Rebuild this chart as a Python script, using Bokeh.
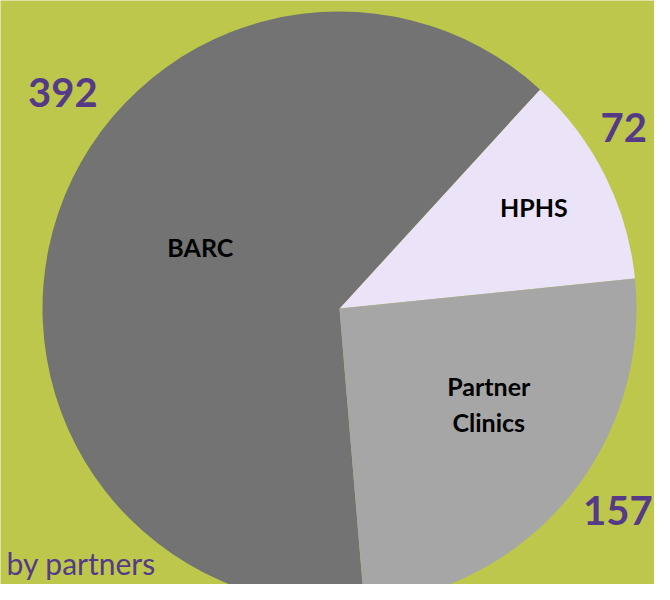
import math
from bokeh.plotting import figure
from bokeh.models import Range1d, ColumnDataSource
from bokeh.core.properties import value
from bokeh.embed import file_html
from bokeh.resources import INLINE

# ---- data ----
labels = ["HPHS", "BARC", "Partner\nClinics"]
counts = [72, 392, 157]
colors = ["#EBE3F8", "#737373", "#A6A6A6"]
footer = "by partners"

# ---- layout ----
W, H = 654, 584
BG = "#BCC74B"
PURPLE = "#553A88"
cx, cy, R = 339, H - 308, 297
start_deg = 5.8
# label placement (angle in degrees, distance from centre in px)
name_pos = [(27.5, 219), (156.3, 152), (-32.5, 177)]
count_pos = [(32.5, 337), (142.0, 351), (-36.0, 344)]

total = sum(counts)
starts, ends = [], []
a = math.radians(start_deg)
for c in counts:
    starts.append(a)
    a += 2 * math.pi * c / total
    ends.append(a)

p = figure(width=W, height=H, x_range=Range1d(0, W), y_range=Range1d(0, H),
           output_backend="svg", toolbar_location=None, min_border=0)
p.axis.visible = False
p.grid.visible = False
p.outline_line_color = None
p.background_fill_color = BG
p.border_fill_color = BG

src = ColumnDataSource(dict(start=starts, end=ends, color=colors))
p.wedge(x=cx, y=cy, radius=R, start_angle="start", end_angle="end",
        fill_color="color", line_color=None, source=src)

nx = [cx + r * math.cos(math.radians(t)) for t, r in name_pos]
ny = [cy + r * math.sin(math.radians(t)) for t, r in name_pos]
p.text(x=nx, y=ny, text=labels, text_font=value("Lato"), text_font_style="bold",
       text_font_size="25px", text_color="#000000", text_align="center",
       text_baseline="middle", text_line_height=1.2)

vx = [cx + r * math.cos(math.radians(t)) for t, r in count_pos]
vy = [cy + r * math.sin(math.radians(t)) for t, r in count_pos]
p.text(x=vx, y=vy, text=[str(c) for c in counts], text_font=value("Lato"),
       text_font_style="bold", text_font_size="40px", text_color=PURPLE,
       text_align="center", text_baseline="middle")

p.text(x=[6], y=[22], text=[footer], text_font=value("Lato"),
       text_font_size="30px", text_color=PURPLE, text_align="left",
       text_baseline="alphabetic")

open("out.html", "w").write(file_html(p, INLINE))
